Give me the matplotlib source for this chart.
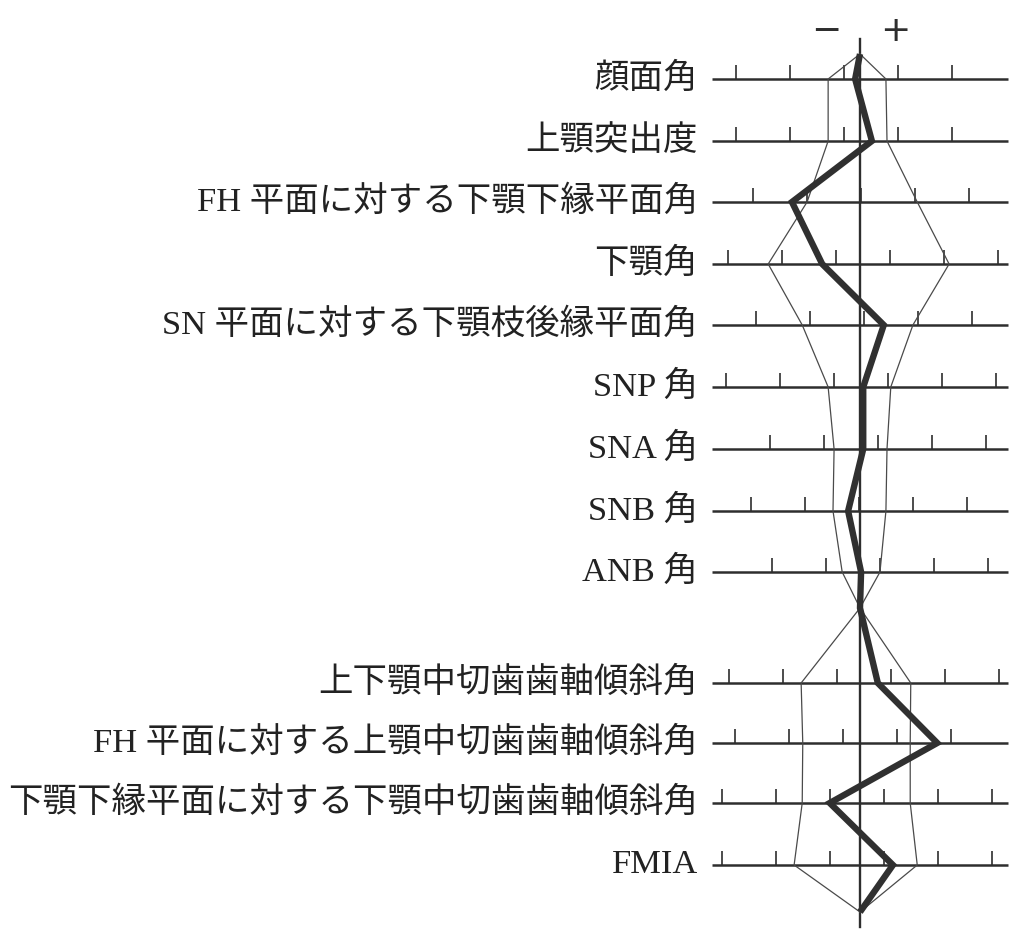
import numpy as np
import matplotlib
matplotlib.use('Agg')
import matplotlib.pyplot as plt

plt.rcParams['font.family'] = ['Liberation Serif', 'Noto Sans CJK JP', 'DejaVu Sans']

# Items of the profilogram (values in SD-like units, 0 = mean)
labels_upper = ['顔面角', '上顎突出度', 'FH 平面に対する下顎下縁平面角', '下顎角',
                'SN 平面に対する下顎枝後縁平面角', 'SNP 角', 'SNA 角', 'SNB 角', 'ANB 角']
labels_lower = ['上下顎中切歯歯軸傾斜角', 'FH 平面に対する上顎中切歯歯軸傾斜角',
                '下顎下縁平面に対する下顎中切歯歯軸傾斜角', 'FMIA']

# patient values
patient_upper = [-0.09, 0.22, -1.26, -0.70, 0.44, 0.06, 0.06, -0.22, 0.02]
patient_lower = [0.33, 1.43, -0.56, 0.61]

# normal range (lower / upper limit)
norm_lo_upper = [-0.59, -0.59, -0.98, -1.70, -1.07, -0.59, -0.48, -0.50, -0.33]
norm_hi_upper = [0.48, 0.50, 1.06, 1.65, 0.98, 0.57, 0.50, 0.48, 0.37]
norm_lo_lower = [-1.09, -1.06, -1.07, -1.22]
norm_hi_lower = [0.94, 0.93, 0.93, 1.06]

# offset of scale ticks on each row
tick_phase_upper = [-0.30, -0.30, 0.02, -0.44, 0.07, -0.48, 0.33, -0.02, 0.37]
tick_phase_lower = [-0.42, -0.31, -0.56, -0.56]

# layout (pixel rows)
y_upper = [79, 141, 202, 264, 325, 387, 449, 511, 572]
y_lower = [683, 743, 803, 865]
y_top, y_mid, y_bot = 54, 608, 912

unit = 54.0   # px per unit
cx = 860.0    # px of centre line

fig = plt.figure(figsize=(10.24, 9.39), dpi=100)
ax = fig.add_axes([0, 0, 1, 1])
ax.set_xlim(-cx / unit, (1024 - cx) / unit)
ax.set_ylim(939, 0)
ax.axis('off')

ink = '#2e2e2e'
xl, xr = -2.74, 2.74

labels = labels_upper + labels_lower
ys = y_upper + y_lower
phases = tick_phase_upper + tick_phase_lower
for lab, y, ph in zip(labels, ys, phases):
    ax.plot([xl, xr], [y, y], color=ink, lw=1.8, solid_capstyle='butt')
    ticks = np.arange(ph - 4, ph + 5, 1.0)
    ticks = ticks[np.abs(ticks) <= 2.6]
    ax.vlines(ticks, y - 14, y, color=ink, lw=1.2)
    ax.text((698 - cx) / unit, y, lab, ha='right', va='center', fontsize=24.8, color='#222222')

# centre line
ax.plot([0, 0], [39, 927], color=ink, lw=1.7)

# normal range band
for lo, hi, yy, y0, y1 in [(norm_lo_upper, norm_hi_upper, y_upper, y_top, y_mid),
                           (norm_lo_lower, norm_hi_lower, y_lower, y_mid, y_bot)]:
    ax.plot([0] + lo + [0], [y0] + yy + [y1], color='#4a4a4a', lw=0.9)
    ax.plot([0] + hi + [0], [y0] + yy + [y1], color='#4a4a4a', lw=0.9)

# patient polygon
px = [0] + patient_upper + [0] + patient_lower + [0]
py = [y_top] + y_upper + [y_mid] + y_lower + [y_bot]
ax.plot(px, py, color='#303030', lw=4.6, solid_joinstyle='miter', solid_capstyle='butt')

# sign markers
ax.text((826 - cx) / unit, 31, '−', ha='center', va='center', fontsize=26, color=ink,
        family='DejaVu Sans')
ax.text((895 - cx) / unit, 31, '+', ha='center', va='center', fontsize=26, color=ink,
        family='DejaVu Sans')

fig.savefig('out.png', dpi=100, facecolor='white')
